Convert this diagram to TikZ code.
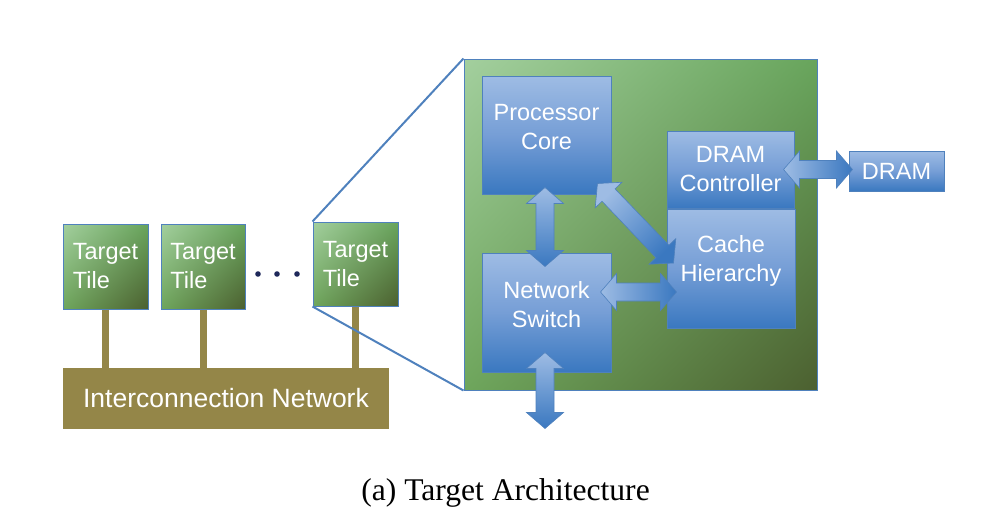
\documentclass[tikz,border=0pt]{standalone}
\usepackage{fontspec}
\setmainfont{Liberation Serif}
\newfontfamily\arial{Liberation Sans}
\usetikzlibrary{calc,positioning,shadings}

\definecolor{ofBlue}{RGB}{79,129,189}
\definecolor{blkTop}{RGB}{158,188,228}
\definecolor{blkMid}{RGB}{118,158,214}
\definecolor{blkBot}{RGB}{58,120,192}
\definecolor{grnUL}{RGB}{163,207,158}
\definecolor{grnUR}{RGB}{104,165,92}
\definecolor{grnLL}{RGB}{110,166,92}
\definecolor{grnLR}{RGB}{76,96,48}
\definecolor{busOlive}{RGB}{148,134,72}
\definecolor{dotBlue}{RGB}{30,40,90}

\tikzset{
  boxfont/.style={font=\arial\fontsize{23.5}{29}\selectfont},
  tile/.style={draw=ofBlue, line width=1pt, upper left=grnUL, upper right=grnUR,
    lower left=grnLL, lower right=grnLR, inner sep=0pt, text=white, align=left, boxfont},
  blk/.style={draw=ofBlue, line width=1pt, top color=blkTop, bottom color=blkBot,
    middle color=blkMid, inner sep=0pt, text=white, align=center, boxfont},
  blktxt/.style={text=white, align=center, boxfont, yshift=7.5pt},
  stem/.style={draw=busOlive, line width=7pt},
  zoomln/.style={draw=ofBlue, line width=2pt},
  arrowfill/.style={draw=ofBlue, line width=0.6pt}
}

% double block arrow between two points
\newcommand{\blockarrow}[3]{%
  \coordinate (ba1) at ($(#2)!16pt!(#3)$);
  \coordinate (ba2) at ($(#3)!16pt!(#2)$);
  \shade[arrowfill, #1] (#2) -- ($(ba1)!18.5pt!90:(#3)$) -- ($(ba1)!9pt!90:(#3)$)
    -- ($(ba2)!9pt!-90:(#2)$) -- ($(ba2)!18.5pt!-90:(#2)$) -- (#3)
    -- ($(ba2)!18.5pt!90:(#2)$) -- ($(ba2)!9pt!90:(#2)$)
    -- ($(ba1)!9pt!-90:(#3)$) -- ($(ba1)!18.5pt!-90:(#3)$) -- cycle;
}

\begin{document}
\begin{tikzpicture}[x=1pt, y=-1pt]
  \useasboundingbox (0,0) rectangle (1007,515);

  % target tiles and the bus
  \node[tile, minimum width=85pt, minimum height=85pt] (tileA) at (105.5,266.5) {Target\\Tile};
  \node[tile, minimum width=84pt, minimum height=85pt] (tileB) at (203,266.5) {Target\\Tile};
  \node[tile, minimum width=85pt, minimum height=84pt] (tileC) at (355.5,264) {Target\\Tile};
  \foreach \x in {258,277,297}
    \fill[dotBlue] (\x,274) circle (2.8pt);

  \node[fill=busOlive, minimum width=326pt, minimum height=61pt, inner sep=0pt,
    text=white, font=\arial\fontsize{26.5}{30}\selectfont] (bus) at (226,398.5) {Interconnection Network};
  \foreach \t in {tileA,tileB,tileC}
    \draw[stem] (\t.south) -- (\t.south |- bus.north);

  % zoomed tile
  \node[tile, minimum width=353pt, minimum height=331pt] (big) at (640.5,224.5) {};
  \draw[zoomln] (tileC.north west) -- (big.north west);
  \draw[zoomln] (tileC.south west) -- (big.south west);

  \node[blk, minimum width=129pt, minimum height=118pt,
    label={[blktxt]center:{Processor\\Core}}] (core) at (546.5,135) {};
  \node[blk, minimum width=129pt, minimum height=119pt,
    label={[blktxt]center:{Network\\Switch}}] (switch) at (546.5,312.5) {};
  \node[blk, minimum width=127pt, minimum height=77pt] (ctrl) at (730.5,169.5) {DRAM\\Controller};
  \node[blk, minimum width=128pt, minimum height=119pt,
    label={[blktxt]center:{Cache\\Hierarchy}}] (cache) at (731,268.5) {};
  \node[blk, minimum width=95pt, minimum height=40pt] (dram) at (896.5,171) {DRAM};

  % block arrows
  \coordinate (coreS) at ([xshift=-1.5pt,yshift=7pt]core.south);
  \coordinate (switchN) at ([xshift=-1.5pt,yshift=-14pt]switch.north);
  \blockarrow{top color=blkTop, bottom color=blkBot}{coreS}{switchN}

  \coordinate (coreSE) at ([xshift=-14pt,yshift=11pt]core.south east);
  \coordinate (cacheW) at ([xshift=7pt,yshift=5.5pt]cache.west);
  \blockarrow{top color=blkTop, bottom color=blkBot, shading angle=45}{coreSE}{cacheW}

  \coordinate (switchE) at ([xshift=-11pt,yshift=20.5pt]switch.east);
  \coordinate (cacheW2) at ([xshift=10pt]switchE -| cache.west);
  \blockarrow{left color=blkTop, right color=blkBot}{switchE}{cacheW2}

  \coordinate (ctrlE) at ([xshift=-11pt]ctrl.east);
  \coordinate (dramW) at ([xshift=4pt]ctrlE -| dram.west);
  \blockarrow{left color=blkTop, right color=blkBot}{ctrlE}{dramW}

  \coordinate (switchS) at ([xshift=-1.5pt,yshift=20pt]switch.south);
  \coordinate (netOut) at ([xshift=-1.5pt,yshift=-56pt]switch.south);
  \blockarrow{top color=blkTop, bottom color=blkBot}{switchS}{netOut}

  \node[anchor=base, font=\fontsize{31.6}{36}\selectfont] (caption) at (505.5,500) {(a) Target Architecture};
\end{tikzpicture}
\end{document}
